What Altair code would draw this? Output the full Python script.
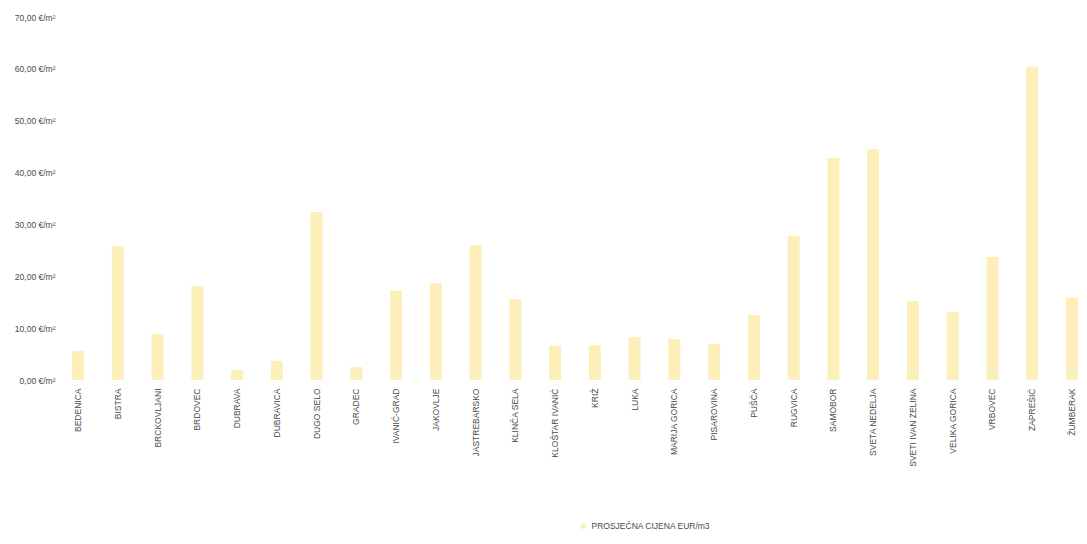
import altair as alt
import pandas as pd

municipalities = [
    "BEDENICA", "BISTRA", "BRCKOVLJANI", "BRDOVEC", "DUBRAVA", "DUBRAVICA",
    "DUGO SELO", "GRADEC", "IVANIĆ-GRAD", "JAKOVLJE", "JASTREBARSKO",
    "KLINČA SELA", "KLOŠTAR IVANIĆ", "KRIŽ", "LUKA", "MARIJA GORICA",
    "PISAROVINA", "PUŠĆA", "RUGVICA", "SAMOBOR", "SVETA NEDELJA",
    "SVETI IVAN ZELINA", "VELIKA GORICA", "VRBOVEC", "ZAPREŠIĆ", "ŽUMBERAK",
]
prices = [
    5.6, 25.8, 8.9, 18.1, 1.9, 3.7,
    32.4, 2.5, 17.2, 18.7, 26.0,
    15.6, 6.6, 6.7, 8.3, 7.9,
    6.9, 12.5, 27.8, 42.8, 44.5,
    15.2, 13.1, 23.7, 60.4, 15.8,
]
series_name = "PROSJEČNA CIJENA EUR/m3"

df = pd.DataFrame({"Općina": municipalities, "Cijena": prices, "Serija": series_name})

FONT = "Liberation Sans"
TXT = "#4a4a4a"

chart = alt.Chart(df).mark_bar().encode(
    x=alt.X(
        "Općina:N",
        sort=municipalities,
        title=None,
        scale=alt.Scale(paddingInner=0.698, paddingOuter=0.1635, align=0.923),
        axis=alt.Axis(
            labelAngle=-90, labelFontSize=8.5, labelColor=TXT, labelFont=FONT,
            domain=False, ticks=False, labelPadding=8, labelLimit=200,
        ),
    ),
    y=alt.Y(
        "Cijena:Q",
        title=None,
        scale=alt.Scale(domain=[0, 70], nice=False),
        axis=alt.Axis(
            values=[0, 10, 20, 30, 40, 50, 60, 70],
            labelExpr="replace(format(datum.value, '.2f'), '.', ',') + ' €/m²'",
            labelFontSize=8.5, labelColor=TXT, labelFont=FONT,
            domain=False, ticks=False, grid=False, labelPadding=5,
            minExtent=47, maxExtent=47,
        ),
    ),
    color=alt.Color(
        "Serija:N",
        scale=alt.Scale(range=["#fdefb9"]),
        legend=alt.Legend(
            title=None, orient="none", legendX=519, legendY=505,
            symbolType="square", symbolSize=25, labelFontSize=8.5,
            labelColor=TXT, labelFont=FONT,
        ),
    ),
).properties(
    width=1019,
    height=363,
    padding={"left": 5, "right": 0, "top": 5, "bottom": 0},
).configure_view(stroke=None)

chart.save("out.html", embed_options={"renderer": "svg", "actions": False})
